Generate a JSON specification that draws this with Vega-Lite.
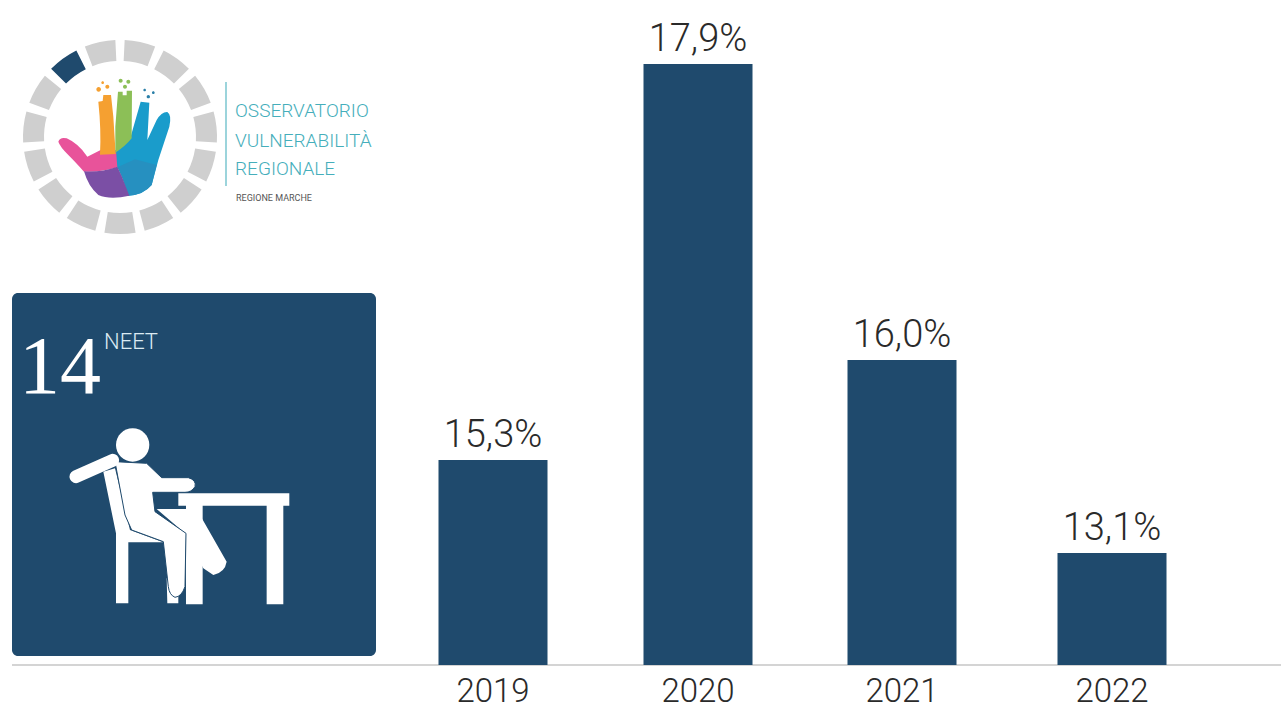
{
  "$schema": "https://vega.github.io/schema/vega-lite/v6.json",
  "width": 1281,
  "height": 711,
  "autosize": {"type": "fit", "contains": "padding"},
  "padding": 0,
  "background": "#ffffff",
  "config": {"view": {"stroke": null}},
  "resolve": {"scale": {"x": "independent", "y": "independent"}},
  "layer": [
    {
      "data": {"values": [{"part": "decor"}]},
      "layer": [
        {"mark": {"type": "rect", "fill": "#1f4a6d", "cornerRadius": 6},
         "encoding": {
           "x": {"datum": 12, "scale": {"domain": [0, 1281], "range": [0, 1281], "zero": false, "nice": false}, "axis": null},
           "x2": {"datum": 376},
           "y": {"datum": 293, "scale": {"domain": [0, 711], "range": [0, 711], "zero": false, "nice": false}, "axis": null},
           "y2": {"datum": 656}}},
        {"mark": {"type": "rule", "stroke": "#a9a9a9", "strokeWidth": 1},
         "encoding": {"x": {"datum": 12}, "x2": {"datum": 1281}, "y": {"datum": 665}}},
        {"mark": {"type": "rule", "stroke": "#5ab8c4", "strokeWidth": 1.2},
         "encoding": {"x": {"datum": 226}, "y": {"datum": 82}, "y2": {"datum": 186}}},
        {"mark": {"type": "text", "text": "OSSERVATORIO", "font": "Roboto", "fontWeight": 300, "fontSize": 19, "fill": "#45aebb", "align": "left", "baseline": "alphabetic"},
         "encoding": {"x": {"datum": 235}, "y": {"datum": 117}}},
        {"mark": {"type": "text", "text": "VULNERABILITÀ", "font": "Roboto", "fontWeight": 300, "fontSize": 19, "fill": "#45aebb", "align": "left", "baseline": "alphabetic"},
         "encoding": {"x": {"datum": 235}, "y": {"datum": 147}}},
        {"mark": {"type": "text", "text": "REGIONALE", "font": "Roboto", "fontWeight": 300, "fontSize": 19, "fill": "#45aebb", "align": "left", "baseline": "alphabetic"},
         "encoding": {"x": {"datum": 235}, "y": {"datum": 175}}},
        {"mark": {"type": "text", "text": "REGIONE MARCHE", "font": "Roboto", "fontSize": 9, "fill": "#555555", "align": "left", "baseline": "alphabetic"},
         "encoding": {"x": {"datum": 236}, "y": {"datum": 201}}},
        {"mark": {"type": "text", "text": "14", "font": "Liberation Serif", "fontSize": 82, "fill": "#ffffff", "align": "center", "baseline": "alphabetic"},
         "encoding": {"x": {"datum": 60}, "y": {"datum": 393}}},
        {"mark": {"type": "text", "text": "NEET", "font": "Roboto", "fontWeight": 300, "fontSize": 22, "fill": "#dcebf3", "align": "left", "baseline": "alphabetic"},
         "encoding": {"x": {"datum": 104}, "y": {"datum": 349}}},
        {
          "encoding": {"x": {"datum": 10}, "y": {"datum": 30}},
          "layer": [
            {"mark": {"type": "point", "filled": true, "opacity": 1, "size": 0.4444, "fill": "#1a9ccb",
              "shape": "M392,215 L418,218 L412,330 L440,270 Q455,245 472,246 Q486,255 478,290 L445,390 L425,465 Q400,495 355,497 L335,430 L316,405 L316,365 L362,320 Z"}},
            {"mark": {"type": "point", "filled": true, "opacity": 1, "size": 0.4444, "fill": "#2690c0",
              "shape": "M322,412 L375,388 L440,405 L425,465 Q400,495 355,497 L335,440 Z"}},
            {"mark": {"type": "point", "filled": true, "opacity": 1, "size": 0.4444, "fill": "#e8539a",
              "shape": "M145,335 Q150,320 170,325 Q205,340 232,380 L272,360 L318,360 L322,412 Q270,428 222,425 Q195,395 175,375 Q150,350 145,335 Z"}},
            {"mark": {"type": "point", "filled": true, "opacity": 1, "size": 0.4444, "fill": "#7b4fa5",
              "shape": "M222,424 Q270,428 322,410 L335,438 L358,497 Q300,510 265,495 Q235,470 222,424 Z"}},
            {"mark": {"type": "point", "filled": true, "opacity": 1, "size": 0.4444, "fill": "#f5a031",
              "shape": "M265,215 L278,213 L280,195 L303,195 L310,260 L317,372 L270,374 Q274,300 265,215 Z M259,178 a7,7 0 1,0 14,0 a7,7 0 1,0 -14,0 Z M286,170 a6,6 0 1,0 12,0 a6,6 0 1,0 -12,0 Z M274,158 a4,4 0 1,0 8,0 a4,4 0 1,0 -8,0 Z"}},
            {"mark": {"type": "point", "filled": true, "opacity": 1, "size": 0.4444, "fill": "#8cbf57",
              "shape": "M324,185 L338,185 L338,196 L350,196 L350,182 L366,182 L365,325 Q345,350 316,368 L316,290 Z M326,152 a6,6 0 1,0 12,0 a6,6 0 1,0 -12,0 Z M349,155 a6,6 0 1,0 12,0 a6,6 0 1,0 -12,0 Z M339,170 a6,6 0 1,0 12,0 a6,6 0 1,0 -12,0 Z"}},
            {"mark": {"type": "point", "filled": true, "opacity": 1, "size": 0.4444, "fill": "#2a7fa8",
              "shape": "M400,180 a4,4 0 1,0 8,0 a4,4 0 1,0 -8,0 Z M426,188 a4,4 0 1,0 8,0 a4,4 0 1,0 -8,0 Z M410,200 a5,5 0 1,0 10,0 a5,5 0 1,0 -10,0 Z"}}
          ]
        },
        {
          "data": {"name": "ring", "values": [
            {"segment": 1, "start": 2.75, "end": 21.25, "state": "off"},
            {"segment": 2, "start": 26.75, "end": 45.25, "state": "off"},
            {"segment": 3, "start": 50.75, "end": 69.25, "state": "off"},
            {"segment": 4, "start": 74.75, "end": 93.25, "state": "off"},
            {"segment": 5, "start": 98.75, "end": 117.25, "state": "off"},
            {"segment": 6, "start": 122.75, "end": 141.25, "state": "off"},
            {"segment": 7, "start": 146.75, "end": 165.25, "state": "off"},
            {"segment": 8, "start": 170.75, "end": 189.25, "state": "off"},
            {"segment": 9, "start": 194.75, "end": 213.25, "state": "off"},
            {"segment": 10, "start": 218.75, "end": 237.25, "state": "off"},
            {"segment": 11, "start": 242.75, "end": 261.25, "state": "off"},
            {"segment": 12, "start": 266.75, "end": 285.25, "state": "off"},
            {"segment": 13, "start": 290.75, "end": 309.25, "state": "off"},
            {"segment": 14, "start": 314.75, "end": 333.25, "state": "on"},
            {"segment": 15, "start": 338.75, "end": 357.25, "state": "off"}
          ]},
          "mark": {"type": "arc", "radius": 97, "radius2": 76},
          "encoding": {
            "x": {"datum": 120},
            "y": {"datum": 137},
            "theta": {"field": "start", "type": "quantitative", "stack": false, "scale": {"domain": [0, 360], "range": [0, 6.2832]}},
            "theta2": {"field": "end"},
            "color": {"field": "state", "type": "nominal", "legend": null, "scale": {"domain": ["off", "on"], "range": ["#cfcfcf", "#1f4a6d"]}}
          }
        },
        {
          "encoding": {"x": {"datum": 0}, "y": {"datum": 285}},
          "layer": [
            {"mark": {"type": "point", "filled": true, "opacity": 1, "size": 0.4444, "fill": "#ffffff",
              "shape": "M535,625 L868,625 L868,662 L850,662 L850,958 L800,958 L800,662 L608,662 L608,958 L558,958 L558,662 L535,662 Z"}},
            {"mark": {"type": "point", "filled": true, "opacity": 1, "size": 0.4444, "fill": "#ffffff",
              "shape": "M310,560 L345,550 L390,735 L490,772 L385,772 L385,955 L348,955 L348,745 Z M500,880 L535,880 L535,955 L502,955 Z"}},
            {"mark": {"type": "point", "filled": true, "opacity": 1, "size": 0.4444, "fill": "#ffffff",
              "shape": "M470,672 L565,672 L600,690 L680,830 Q675,862 640,870 L610,850 L555,745 Z"}},
            {"mark": {"type": "point", "filled": true, "opacity": 1, "size": 0.4444, "stroke": "#1f4a6d", "strokeWidth": 1, "fill": "#ffffff",
              "shape": "M345,530 L440,535 L485,578 L565,578 Q590,585 585,605 Q575,622 555,622 L458,622 L465,680 L558,745 L555,905 Q545,935 525,937 Q508,930 505,905 L490,770 L395,735 L375,690 Z"}},
            {"mark": {"type": "point", "filled": true, "opacity": 1, "size": 0.4444, "fill": "#ffffff",
              "shape": "M348,480 a50,50 0 1,0 100,0 a50,50 0 1,0 -100,0 Z"}},
            {"mark": {"type": "point", "filled": false, "opacity": 1, "size": 0.4444, "stroke": "#ffffff", "strokeWidth": 13, "strokeCap": "round",
              "shape": "M228,575 L338,526"}}
          ]
        }
      ]
    },
    {
      "data": {"name": "neet", "values": [
        {"year": 2019, "pct": 15.3, "label": "15,3%"},
        {"year": 2020, "pct": 17.9, "label": "17,9%"},
        {"year": 2021, "pct": 16.0, "label": "16,0%"},
        {"year": 2022, "pct": 13.1, "label": "13,1%"}
      ]},
      "encoding": {
        "x": {"field": "year", "type": "quantitative", "axis": null,
              "scale": {"domain": [2019, 2020, 2021, 2022], "range": [493, 698, 902, 1112], "zero": false, "nice": false, "padding": 0}}
      },
      "layer": [
        {"mark": {"type": "bar", "width": 109, "fill": "#1f4a6d"},
         "encoding": {"y": {"field": "pct", "type": "quantitative", "axis": null,
           "scale": {"domain": [0, 13.1, 15.3, 16.0, 17.9], "range": [665, 553, 460, 360, 64], "nice": false}}}},
        {"mark": {"type": "text", "font": "Roboto", "fontWeight": 300, "fontSize": 38, "fill": "#2a2a2a", "baseline": "alphabetic", "dy": -13},
         "encoding": {"y": {"field": "pct", "type": "quantitative"}, "text": {"field": "label"}}},
        {"mark": {"type": "text", "font": "Roboto", "fontWeight": 300, "fontSize": 33, "fill": "#2a2a2a", "baseline": "alphabetic", "dy": 37},
         "encoding": {"y": {"datum": 0}, "text": {"field": "year", "type": "nominal"}}}
      ]
    }
  ]
}
